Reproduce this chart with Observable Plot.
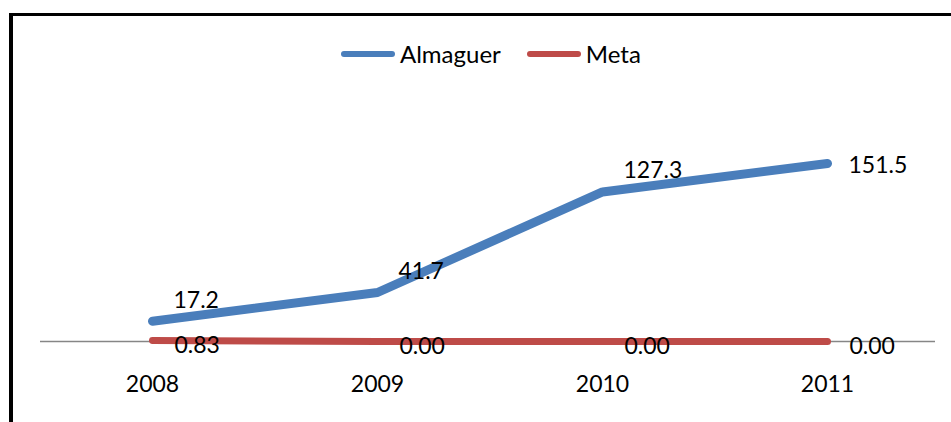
<!DOCTYPE html>
<html>
<head>
<meta charset="utf-8">
<script src="https://cdn.jsdelivr.net/npm/d3@7"></script>
<script src="https://cdn.jsdelivr.net/npm/@observablehq/plot@0.6"></script>
<style>
  html, body { margin: 0; padding: 0; background: #fff; }
  #wrap { position: relative; width: 951px; height: 422px; overflow: hidden; font-family: Lato, "Open Sans", sans-serif; }
  #bt { position: absolute; left: 9px; top: 13px; width: 960px; height: 3px; background: #000; }
  #bl { position: absolute; left: 9px; top: 13px; width: 4px; height: 420px; background: #000; }
  #legend { position: absolute; top: 39px; left: 341px; display: flex; align-items: center; font-size: 24px; color: #000; }
  .sw { display: inline-block; width: 54px; height: 6px; border-radius: 3px; margin-right: 5px; }
  .item { display: flex; align-items: center; margin-right: 26px; }
  #chart { position: absolute; left: 0; top: 0; }
</style>
</head>
<body>
<div id="wrap">
  <div id="chart"></div>
  <div id="bt"></div>
  <div id="bl"></div>
  <div id="legend"></div>
</div>
<script>
const years = ["2008", "2009", "2010", "2011"];
const almaguer = [17.2, 41.7, 127.3, 151.5];
const meta = [0.83, 0.00, 0.00, 0.00];
const almaguerLabels = ["17.2", "41.7", "127.3", "151.5"];
const metaLabels = ["0.83", "0.00", "0.00", "0.00"];
const seriesNames = ["Almaguer", "Meta"];
const colors = ["#4A7EBB", "#BE4B48"];

const dataA = years.map((y, i) => ({year: y, value: almaguer[i], label: almaguerLabels[i], i}));
const dataM = years.map((y, i) => ({year: y, value: meta[i], label: metaLabels[i], i}));

const chart = Plot.plot({
  width: 951,
  height: 422,
  marginLeft: 39,
  marginRight: 11,
  marginTop: 106,
  marginBottom: 81,
  style: {fontFamily: "Lato, 'Open Sans', sans-serif", fontSize: "23px", background: "transparent"},
  x: {type: "point", domain: years, padding: 0.5, axis: null},
  y: {domain: [0, 200], axis: null},
  marks: [
    Plot.ruleY([0], {stroke: "#868686", strokeWidth: 1.3, insetLeft: 1, insetRight: 5}),
    Plot.line(dataM, {x: "year", y: "value", stroke: colors[1], strokeWidth: 7, strokeLinecap: "round", strokeLinejoin: "round"}),
    Plot.line(dataA, {x: "year", y: "value", stroke: colors[0], strokeWidth: 9, strokeLinecap: "round", strokeLinejoin: "round"}),
    Plot.text(dataM, {x: "year", y: "value", text: "label", textAnchor: "start", dx: 22, dy: 5, fill: "#000", fontSize: 23}),
    Plot.text(dataA.filter(d => d.i < 3), {x: "year", y: "value", text: "label", textAnchor: "start", dx: 21, dy: -21, fill: "#000", fontSize: 23}),
    Plot.text(dataA.filter(d => d.i === 3), {x: "year", y: "value", text: "label", textAnchor: "start", dx: 21, dy: 2, fill: "#000", fontSize: 23}),
    Plot.text(years, {x: d => d, y: () => 0, text: d => d, dy: 43, fill: "#000", fontSize: 23})
  ]
});
document.getElementById("chart").appendChild(chart);

const legend = document.getElementById("legend");
seriesNames.forEach((n, i) => {
  const item = document.createElement("div");
  item.className = "item";
  const sw = document.createElement("span");
  sw.className = "sw";
  sw.style.background = colors[i];
  const t = document.createElement("span");
  t.textContent = n;
  item.appendChild(sw);
  item.appendChild(t);
  legend.appendChild(item);
});
</script>
</body>
</html>
